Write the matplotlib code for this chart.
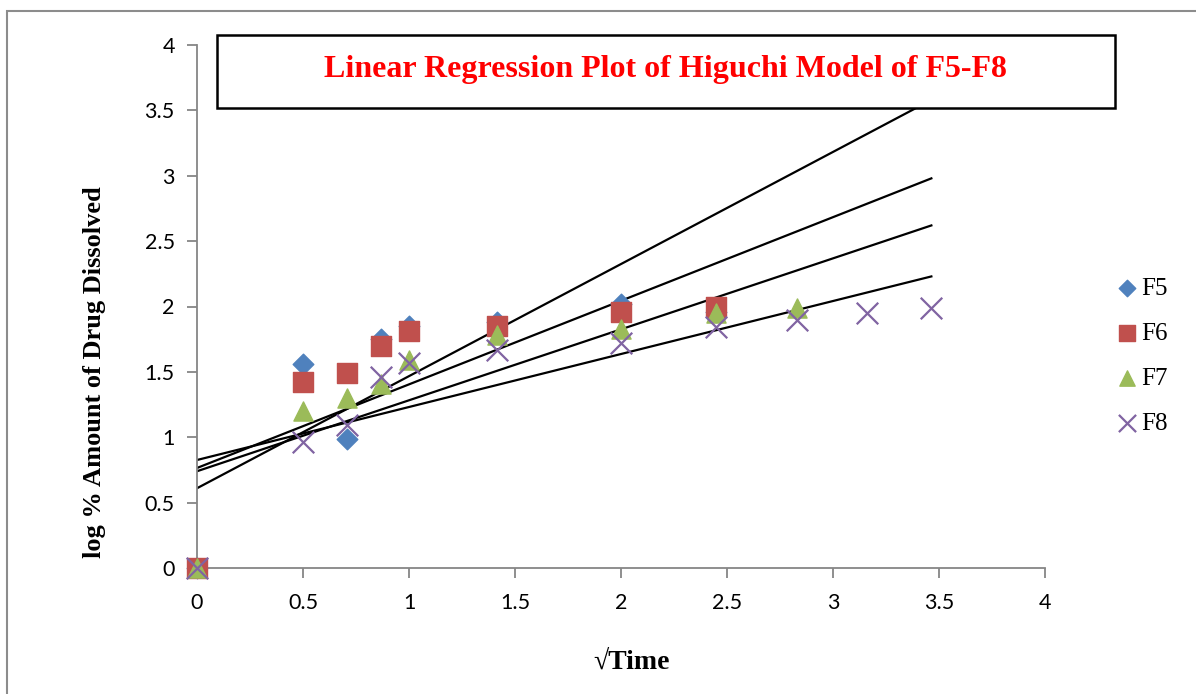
import matplotlib.pyplot as plt
from matplotlib.patches import Rectangle

sqrt_time = [0, 0.5, 0.707, 0.866, 1, 1.414, 2, 2.449, 2.828, 3.162, 3.464]

f5 = [0, 1.56, 0.99, 1.75, 1.85, 1.88, 2.02, 1.96]
f6 = [0, 1.42, 1.49, 1.70, 1.81, 1.85, 1.96, 2.0]
f7 = [0, 1.20, 1.30, 1.41, 1.59, 1.78, 1.83, 1.95, 1.99]
f8 = [0, 0.96, 1.09, 1.46, 1.57, 1.67, 1.72, 1.84, 1.90, 1.95, 1.99]

# trendlines (intercept at 0, value at x end)
trend_x = [0, 3.464]
trend_ends = [[0.61, 3.58], [0.765, 2.98], [0.74, 2.62], [0.826, 2.23]]

plt.rcParams['font.family'] = ['Lato', 'DejaVu Sans']
serif = ['Liberation Serif', 'DejaVu Serif']

fig = plt.figure(figsize=(11.96, 6.94), dpi=100)
W, H = 1196, 694
ax = fig.add_axes([197 / W, 1 - 568 / H, (1045 - 197) / W, (568 - 45) / H])

for ends in trend_ends:
    ax.plot(trend_x, ends, color='black', lw=1.6, zorder=2)

ax.scatter(sqrt_time[:len(f5)], f5, marker='D', s=110, color='#4f81bd', label='F5', zorder=3, clip_on=False)
ax.scatter(sqrt_time[:len(f6)], f6, marker='s', s=220, color='#c0504d', label='F6', zorder=3, clip_on=False)
ax.scatter(sqrt_time[:len(f7)], f7, marker='^', s=190, color='#9bbb59', label='F7', zorder=3, clip_on=False)
ax.scatter(sqrt_time[:len(f8)], f8, marker='x', s=240, color='#8064a2', linewidths=1.6, label='F8', zorder=3, clip_on=False)

ax.set_xlim(0, 4)
ax.set_ylim(0, 4)
ax.set_xticks([0, 0.5, 1, 1.5, 2, 2.5, 3, 3.5, 4])
ax.set_xticklabels(['0', '0.5', '1', '1.5', '2', '2.5', '3', '3.5', '4'])
ax.set_yticks([0, 0.5, 1, 1.5, 2, 2.5, 3, 3.5, 4])
ax.set_yticklabels(['0', '0.5', '1', '1.5', '2', '2.5', '3', '3.5', '4'])
for s in ['top', 'right']:
    ax.spines[s].set_visible(False)
for s in ['left', 'bottom']:
    ax.spines[s].set_color('#868686')
    ax.spines[s].set_linewidth(1.3)
ax.tick_params(direction='out', length=7, width=1.3, color='#868686', labelsize=15.5)
ax.tick_params(axis='x', pad=11)
ax.tick_params(axis='y', pad=9)

fig.text(632 / W, 1 - 662 / H, '√Time', ha='center', va='center', family=serif,
         fontweight='bold', fontsize=20)
fig.text(95 / W, 1 - 372 / H, 'log % Amount of Drug Dissolved', ha='center', va='center', rotation=90,
         family=serif, fontweight='bold', fontsize=19)

ax.legend(loc='center left', bbox_to_anchor=(1079 / W, 1 - 356 / H), bbox_transform=fig.transFigure,
          frameon=False, prop={'family': serif, 'size': 18}, handletextpad=-0.4, labelspacing=0.9,
          scatterpoints=1, markerscale=0.8)

# title box
box = Rectangle((217 / W, 1 - 108 / H), (1115 - 217) / W, (108 - 35) / H, transform=fig.transFigure,
                facecolor='white', edgecolor='black', lw=1.8, zorder=5)
fig.add_artist(box)
fig.text(666 / W, 1 - 70 / H, 'Linear Regression Plot of Higuchi Model of F5-F8', ha='center', va='center',
         color='red', fontweight='bold', fontsize=23, family=serif, zorder=6)

# outer chart frame
frame = Rectangle((7 / W, -0.05), 1.1, 1 - 11 / H + 0.05, transform=fig.transFigure,
                  facecolor='none', edgecolor='#8c8c8c', lw=1.5, zorder=0)
fig.add_artist(frame)

fig.savefig('out.png', dpi=100)
